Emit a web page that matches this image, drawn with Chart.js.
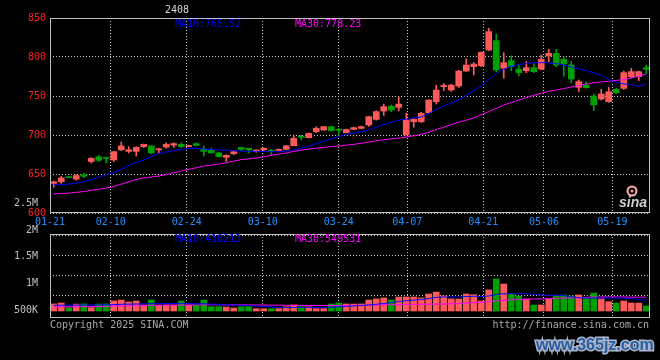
<!DOCTYPE html>
<html><head><meta charset="utf-8">
<script src="https://cdn.jsdelivr.net/npm/chart.js@4.4.1/dist/chart.umd.min.js"></script>
<style>
html,body{margin:0;padding:0;background:#000;}
#wrap{position:relative;width:660px;height:360px;background:#000;overflow:hidden;}
#cp{position:absolute;left:0;top:0;}
#cv{position:absolute;left:0;top:190px;}
</style></head><body>
<div id="wrap"><canvas id="cp" width="660" height="232"></canvas><canvas id="cv" width="660" height="170"></canvas></div>
<script>
// ---------- data ----------
const dates = ['01-21','01-22','01-23','01-24','01-27',
 '02-05','02-06','02-07','02-10','02-11','02-12','02-13','02-14','02-17','02-18','02-19','02-20','02-21','02-24','02-25','02-26','02-27','02-28',
 '03-03','03-04','03-05','03-06','03-07','03-10','03-11','03-12','03-13','03-14','03-17','03-18','03-19','03-20','03-21','03-24','03-25','03-26','03-27','03-28','03-31',
 '04-01','04-02','04-03','04-07','04-08','04-09','04-10','04-11','04-14','04-15','04-16','04-17','04-18','04-21','04-22','04-23','04-24','04-25','04-28','04-29','04-30',
 '05-06','05-07','05-08','05-09','05-12','05-13','05-14','05-15','05-16','05-19','05-20','05-21','05-22','05-23','05-26'];
const dateTicks = ['01-21','02-10','02-24','03-10','03-24','04-07','04-21','05-06','05-19'];
const priceTicks = [600,650,700,750,800,850];
const volTicks = [500000,1000000,1500000,2000000,2500000];
const volGrid = [500000,1000000,1500000,2000000];

const open  = [638,640,646,643.5,649, 666,672,670.5,668,681,679,679,685,686,681,684.5,687,688,685,689,682,680.5,677,
 671.5,676,684,683,678.6,681,680,680.3,681.6,686.3,697.5,696.6,704.3,706.4,710.7,707,703,707.2,708.5,712.8,720,
 730.7,737,735.5,700,717,717,728.6,742.7,762,757.7,762.8,782,787.6,789,809,821,785.5,795.3,784.6,782.5,786.3,
 784.6,801.3,804.7,797,789.7,761.1,764.1,750,746.1,742.7,758.5,759.8,774.8,774.8,786.3];
const high  = [641,647,646.5,649,651, 671,674,671.5,679,691,685,685,688.5,686.5,683,690,690,690,687,690,686,683,678,
 674.5,679,684.5,683,681,683.5,681.6,682,686.5,700,700,702.5,710.7,711,711.5,708.5,707.5,710,711.5,724,731,
 739.7,738.5,748.3,728,721,729,745,764,766,765,783,797.4,793,806.5,836.8,829.5,805.6,801.3,790.6,794,791,
 802.6,809.8,809.8,800.4,794,770.5,768,752.5,758.5,761,760,782,785.5,782,789.7];
const low   = [633,638,645,642,645, 664,666,664,666,680,677,673,684,676,677,683,684,684,685,686,673,677,672,
 666,675,680,677,678,680,674.4,680,681,686,693.6,696,703,706,705,700,703,707,708,711,719,
 725,730,731,700,710,716,728,739.7,757,756,761,781,777,787.6,808,781,772.7,782.5,775.6,779.9,780,
 783.3,794,787.6,775.6,767,755.5,760,731.2,744.9,742,753,758.5,773,769.7,779];
const close = [640,645,645.3,648,647, 670,667.5,670,678.6,686,681,684,688,677,682,688,689,685,686.5,686.5,679,677,672,
 674,678.5,681.5,681,680.8,683,679,681.6,686,695.7,697,702,708.5,710.7,705.6,706,707,709.4,710.7,723.5,730,
 736.3,732,739.7,719.2,720,727.8,744.9,757.7,763.5,764,782,789.7,791,806,832.5,783.3,792.7,787.6,780,786.3,781.2,
 797,804.7,789.7,791,771.8,768.4,760.7,738.5,752.5,755.5,754.3,779.9,781.2,781.2,784.2];
const ma10  = [636,636.5,637,638.5,640,643,646,649,652,656,661,665,668,673,676,678,680,681.5,683,683,682,681.5,681,
 680.5,680,679.5,679,679,678.8,678.6,678.6,679.5,681,683,685.5,689,692,695,698,701,702.5,704.5,706.5,710,
 713.5,716.5,719,720.5,722,723,727.5,733,737,741,745,751,757,763,771,779,784.5,788,790,791.9,792.5,
 792.7,792.7,791.5,790,787,785,782.5,779.5,777,771,767.5,765.5,764.5,762.5,765.52];
const ma30  = [624.5,625,625.5,626.5,627.5,629,630.5,632,634,637,640,643,645,646,647.5,649,651.5,654,656,658,660,661.5,662.8,
 664.5,666.5,668.5,669.5,670.5,672,674,675.5,677,679,680.5,682,683,684,685.2,686,687,688,689.5,691,692.5,
 694,695,696,697.5,699,701,703.5,707,710,713.5,716.5,719,722,726,730,734,738.5,741.5,745,748,751,
 753.5,756,757.5,759.5,761.5,763.5,765.5,767,768,769,770,771,773,775.5,778.23];
const volume = [282000,318000,131000,276000,284000,135000,279000,281000,402000,438000,362000,398000,243000,441000,238000,242000,240000,399000,241000,239000,436000,
 172000,175000,158000,121000,171000,174000,94000,92000,95000,93000,172000,241000,174000,171000,93000,95000,279000,322000,281000,278000,282000,
 438000,482000,521000,441000,558000,562000,559000,522000,681000,758000,602000,483000,478000,679000,652000,401000,842000,1281000,1079000,
 681000,598000,482000,239000,242000,481000,601000,642000,598000,641000,533000,718000,482000,372000,321000,401000,322000,318000,201000];
const volMa10 = [230000,230000,235000,240000,240000,240000,245000,250000,255000,270000,275000,280000,285000,295000,295000,300000,300000,305000,300000,290000,290000,
 275000,265000,245000,235000,225000,215000,195000,180000,165000,140000,135000,140000,140000,145000,140000,135000,150000,170000,190000,205000,
 220000,240000,270000,300000,335000,380000,410000,435000,460000,500000,545000,560000,560000,560000,580000,590000,575000,600000,660000,690000,
 690000,690000,690000,670000,640000,625000,630000,620000,570000,530000,515000,520000,515000,520000,520000,510000,490000,465000,418213];
const volMa30 = [170000,170000,170000,170000,175000,175000,180000,185000,195000,200000,205000,210000,215000,220000,225000,230000,232000,235000,238000,240000,
 245000,245000,245000,245000,245000,245000,243000,240000,238000,235000,233000,230000,228000,225000,222000,220000,218000,218000,220000,222000,
 225000,228000,232000,238000,244000,250000,256000,262000,266000,270000,272000,276000,280000,290000,300000,315000,335000,355000,380000,405000,
 425000,445000,460000,475000,480000,485000,495000,505000,515000,525000,535000,545000,555000,560000,565000,565000,560000,555000,552000,549531];

// ---------- styles ----------
const MONO = '"DejaVu Sans Mono","Liberation Mono",monospace';
const RED = '#ff5a5a', GREEN = '#00a000', GRID = '#c8c8c8', FRAME = '#c0c0c0';
const up = i => close[i] >= open[i];
const candleColor = ctx => up(ctx.dataIndex) ? RED : GREEN;

function dayAxis(showLabels) {
  return {
    type: 'linear', position: 'bottom', min: 0, max: 78.95, offset: false,
    afterBuildTicks: s => { s.ticks = dateTicks.map(d => ({value: dates.indexOf(d)})); },
    afterFit: s => { s.height = showLabels ? 19 : 0; },
    grid: {color: GRID, lineWidth: 1, drawTicks: false, offset: false},
    border: {display: false, dash: [1, 2]},
    ticks: {display: showLabels, color: '#1e90ff', font: {family: MONO, size: 10},
      padding: 3, maxRotation: 0, autoSkip: false, callback: v => dates[v]}
  };
}

const framePlugin = {
  id: 'frame',
  afterDraw(chart) {
    const {ctx, chartArea: a} = chart;
    ctx.save();
    ctx.strokeStyle = FRAME; ctx.lineWidth = 1;
    ctx.strokeRect(a.left + 0.5, a.top + 0.5, a.right - a.left - 1, a.bottom - a.top - 1);
    ctx.restore();
  }
};

const priceText = {
  id: 'priceText',
  afterDraw(chart) {
    const {ctx, chartArea: a} = chart;
    ctx.save();
    ctx.font = '10px ' + MONO;
    ctx.textBaseline = 'alphabetic';
    ctx.fillStyle = '#d8d8d8';
    ctx.fillText('2408', a.left + 115, 13);
    ctx.fillStyle = '#0000ff';
    ctx.fillText('MA10:' + ma10[ma10.length - 1].toFixed(2), a.left + 125, a.top + 9);
    ctx.fillStyle = '#ff00ff';
    ctx.fillText('MA30:' + ma30[ma30.length - 1].toFixed(2), a.left + 245, a.top + 9);
    // sina logo
    ctx.strokeStyle = '#ffb0b0'; ctx.lineWidth = 2;
    ctx.beginPath(); ctx.arc(a.right - 18, a.bottom - 22, 4.5, 0, Math.PI * 2); ctx.stroke();
    ctx.fillStyle = '#ff9090';
    ctx.beginPath(); ctx.arc(a.right - 18, a.bottom - 22, 1.5, 0, Math.PI * 2); ctx.fill();
    ctx.font = 'italic bold 14px "Liberation Sans",Arial,sans-serif';
    ctx.fillStyle = '#cfcfcf';
    ctx.fillText('sina', a.right - 31, a.bottom - 6);
    ctx.restore();
  }
};

const volText = {
  id: 'volText',
  afterDraw(chart) {
    const {ctx, chartArea: a} = chart;
    ctx.save();
    ctx.font = '10px ' + MONO;
    ctx.textBaseline = 'alphabetic';
    ctx.fillStyle = '#0000ff';
    ctx.fillText('MA10:' + Math.round(volMa10[volMa10.length - 1]), a.left + 125, a.top + 8);
    ctx.fillStyle = '#ff00ff';
    ctx.fillText('MA30:' + Math.round(volMa30[volMa30.length - 1]), a.left + 245, a.top + 8);
    ctx.fillStyle = '#a8a8a8';
    ctx.fillText('Copyright 2025 SINA.COM', a.left, a.bottom + 9.5);
    ctx.textAlign = 'right';
    ctx.fillText('http://finance.sina.com.cn', a.right - 1, a.bottom + 9.5);
    // watermark
    ctx.textAlign = 'left';
    ctx.font = 'bold 16px "Liberation Sans",Arial,sans-serif';
    ctx.lineWidth = 3; ctx.strokeStyle = '#aab6cc';
    ctx.strokeText('www.365jz.com', a.right - 114, a.bottom + 32);
    ctx.fillStyle = '#2c5d9e';
    ctx.fillText('www.365jz.com', a.right - 114, a.bottom + 32);
    ctx.restore();
  }
};

const common = {
  responsive: false, animation: false, events: [],
  plugins: {legend: {display: false}, tooltip: {enabled: false}}
};

// ---------- price chart ----------
new Chart(document.getElementById('cp'), {
  type: 'bar',
  data: {
    labels: dates,
    datasets: [
      {type: 'line', data: ma10, borderColor: '#0000ff', borderWidth: 1, pointRadius: 0, order: 0},
      {type: 'line', data: ma30, borderColor: '#ff00ff', borderWidth: 1, pointRadius: 0, order: 1},
      {data: dates.map((d, i) => [open[i], close[i]]), backgroundColor: candleColor, barThickness: 6,
       grouped: false, minBarLength: 1, borderWidth: 0, order: 2},
      {data: dates.map((d, i) => [low[i], high[i]]), backgroundColor: candleColor, barThickness: 1,
       grouped: false, borderWidth: 0, order: 3}
    ]
  },
  options: Object.assign({}, common, {
    layout: {padding: {left: 0, right: 10, top: 18, bottom: 0}},
    scales: {
      x: {type: 'category', offset: true, display: false},
      xd: dayAxis(true),
      y: {min: 600, max: 850,
        afterBuildTicks: s => { s.ticks = priceTicks.map(v => ({value: v})); },
        afterFit: s => { s.width = 50; },
        grid: {color: GRID, drawTicks: false},
        border: {display: false, dash: [1, 2]},
        ticks: {color: '#ff2020', font: {family: MONO, size: 10}, padding: 4}}
    }
  }),
  plugins: [framePlugin, priceText]
});

// ---------- volume chart ----------
const fmtVol = v => v >= 1000000 ? (v / 1000000) + 'M' : (v / 1000) + 'K';
new Chart(document.getElementById('cv'), {
  type: 'bar',
  data: {
    labels: dates,
    datasets: [
      {type: 'line', data: volMa10, borderColor: '#0000ff', borderWidth: 1, pointRadius: 0, yAxisID: 'yv', order: 0},
      {type: 'line', data: volMa30, borderColor: '#ff00ff', borderWidth: 1, pointRadius: 0, yAxisID: 'yv', order: 1},
      {data: volume, backgroundColor: candleColor, barThickness: 6, borderWidth: 0, yAxisID: 'yv', order: 2}
    ]
  },
  options: Object.assign({}, common, {
    layout: {padding: {left: 0, right: 10, top: 44, bottom: 42}},
    scales: {
      x: {type: 'category', offset: true, display: false},
      xd: dayAxis(false),
      yv: {display: false, min: -280000, max: 3080000},
      yg: {position: 'right', min: -67500, max: 2032500,
        afterBuildTicks: s => { s.ticks = volGrid.map(v => ({value: v})); },
        afterFit: s => { s.width = 0; },
        grid: {color: GRID, drawTicks: false},
        border: {display: false, dash: [1, 2]},
        ticks: {display: false}},
      yl: {position: 'left', min: 425000, max: 2000000,
        afterBuildTicks: s => { s.ticks = volTicks.map(v => ({value: v})); },
        afterFit: s => { s.width = 50; },
        grid: {display: false},
        border: {display: false},
        ticks: {color: '#c0c0c0', font: {family: MONO, size: 10}, padding: 4, labelOffset: -4,
          callback: v => fmtVol(v)}}
    }
  }),
  plugins: [framePlugin, volText]
});
</script>
</body></html>
